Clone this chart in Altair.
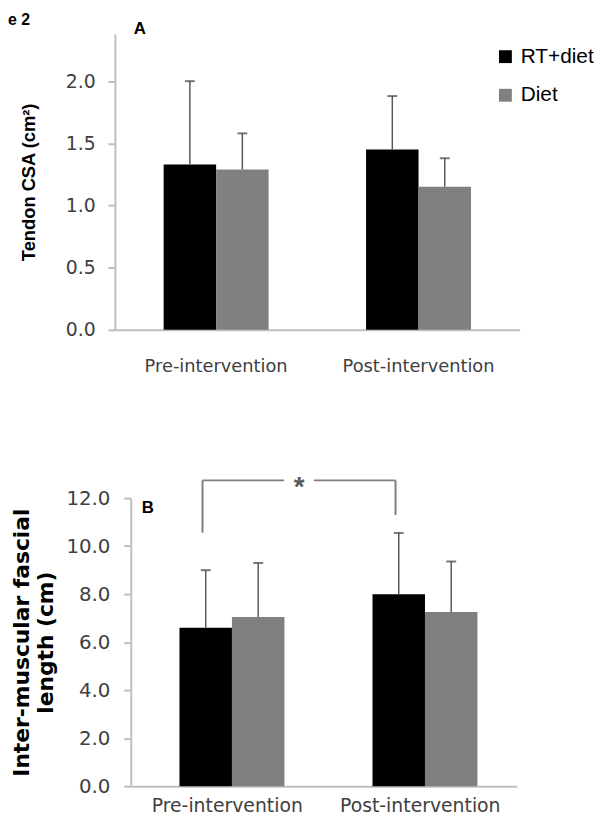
import altair as alt
import pandas as pd

# ---------------- data ----------------
times = ["Pre-intervention", "Post-intervention"]
groups = ["RT+diet", "Diet"]
colors = ["#000000", "#808080"]

row_time = ["Pre-intervention", "Pre-intervention", "Post-intervention", "Post-intervention"]
row_group = ["RT+diet", "Diet", "RT+diet", "Diet"]

# Panel A: tendon CSA (cm²)
csa_mean = [1.33, 1.29, 1.45, 1.15]
csa_sd = [0.67, 0.29, 0.43, 0.23]
csa_ticks = [0.0, 0.5, 1.0, 1.5, 2.0]

# Panel B: inter-muscular fascial length (cm)
fl_mean = [6.6, 7.05, 8.0, 7.26]
fl_sd = [2.4, 2.25, 2.55, 2.1]
fl_ticks = [0.0, 2.0, 4.0, 6.0, 8.0, 10.0, 12.0]

# significance bracket (panel B): RT+diet pre vs post
sig_group = "RT+diet"
sig_y = 12.74
sig_leg_pre = 10.56
sig_leg_post = 11.3
sig_text = "*"

df_a = pd.DataFrame({"Time": row_time, "Group": row_group, "mean": csa_mean,
                     "upper": [m + s for m, s in zip(csa_mean, csa_sd)]})
df_b = pd.DataFrame({"Time": row_time, "Group": row_group, "mean": fl_mean,
                     "upper": [m + s for m, s in zip(fl_mean, fl_sd)]})

AXIS_GREY = "#bfbfbf"
LABEL_GREY = "#404040"


def bar_layers(df, ymax, ticks, y_axis_kwargs, x_axis_kwargs, po, legend, x_range=None):
    xs = dict(domain=times, paddingInner=0, paddingOuter=0)
    if x_range is not None:
        xs["range"] = x_range
    x = alt.X("Time:N", sort=times, scale=alt.Scale(**xs),
              axis=alt.Axis(title=None, labelAngle=0, ticks=False, tickSize=0,
                            domainColor=AXIS_GREY, domainWidth=2,
                            labelColor=LABEL_GREY, labelFont="DejaVu Sans", **x_axis_kwargs))
    xo = alt.XOffset("Group:N", sort=groups,
                     scale=alt.Scale(domain=groups, paddingInner=0, paddingOuter=po))
    y_scale = alt.Scale(domain=[0, ymax], nice=False, zero=True)
    y_axis = alt.Axis(values=ticks, format=".1f", grid=False,
                      domainColor=AXIS_GREY, domainWidth=2,
                      tickColor=AXIS_GREY, tickWidth=2, tickSize=7,
                      labelColor=LABEL_GREY, labelFont="DejaVu Sans",
                      titleColor="black", **y_axis_kwargs)
    base = alt.Chart(df)
    bars = base.mark_bar().encode(
        x=x, xOffset=xo,
        y=alt.Y("mean:Q", scale=y_scale, axis=y_axis),
        color=alt.Color("Group:N", sort=groups,
                        scale=alt.Scale(domain=groups, range=colors), legend=legend),
    )
    err = base.mark_rule(color="#595959", strokeWidth=1.5).encode(
        x=x, xOffset=xo,
        y=alt.Y("mean:Q", scale=y_scale, axis=y_axis), y2="upper:Q",
    )
    cap = base.mark_tick(color="#404040", size=10, thickness=2).encode(
        x=x, xOffset=xo,
        y=alt.Y("upper:Q", scale=y_scale, axis=y_axis),
    )
    return [bars, err, cap], y_scale, y_axis


def panel_letter(letter, px, py):
    return alt.Chart(pd.DataFrame({"t": [letter]})).mark_text(
        align="left", baseline="alphabetic", font="Liberation Sans", fontSize=17,
        fontWeight="bold", color="black").encode(
        text="t:N", x=alt.value(px), y=alt.value(py))


# ---------------- panel A ----------------
legend_a = alt.Legend(title=None, orient="none", legendX=384, legendY=12.5,
                      symbolType="square", symbolSize=169, symbolStrokeWidth=0,
                      labelFont="Liberation Sans", labelFontSize=21, labelColor="black",
                      rowPadding=17, labelOffset=5, padding=0)
layers_a, ys_a, ya_a = bar_layers(
    df_a, 2.38, csa_ticks,
    dict(title="Tendon CSA (cm²)", titleFont="Liberation Sans", titleFontSize=18.5,
         titleFontWeight="bold", titlePadding=27, labelFontSize=19, labelPadding=13),
    dict(labelFontSize=18, labelPadding=28),
    0.929, legend_a)

fig_label = alt.Chart(pd.DataFrame({"t": ["e 2"]})).mark_text(
    align="left", baseline="top", font="Liberation Sans", fontSize=16,
    fontWeight="bold", color="black").encode(
    text="t:N", x=alt.value(-108), y=alt.value(-22))

top = alt.layer(*layers_a, fig_label, panel_letter("A", 19, 0)).properties(
    width=409, height=299,
)

# ---------------- panel B ----------------
po_b = 0.95
b_shift = 16           # y axis of panel B sits 16px right of panel A's
b_width = 406
layers_b, ys_b, ya_b = bar_layers(
    df_b, 12, fl_ticks,
    dict(title=["Inter-muscular fascial", "length (cm)"], titleFont="DejaVu Sans",
         titleFontSize=22, titleFontWeight="bold", titleLineHeight=25,
         titlePadding=8, labelFontSize=20, labelPadding=14, offset=-b_shift),
    dict(labelFontSize=19, labelPadding=11),
    po_b, None, x_range=[b_shift, b_width])

bar_frac = 1.0 / (2 + 2 * po_b)


def bar_center(t, g):
    return times.index(t) + 0.5 + (groups.index(g) - 0.5) * bar_frac


xa = bar_center("Pre-intervention", sig_group)
xb = bar_center("Post-intervention", sig_group)
br_df = pd.DataFrame({
    "x": [xa, xb, xa], "x2": [xa, xb, xb],
    "y": [sig_leg_pre, sig_leg_post, sig_y], "y2": [sig_y, sig_y, sig_y],
})
star_df = pd.DataFrame({"x": [(xa + xb) / 2], "y": [sig_y], "t": [sig_text]})

xq = alt.X("x:Q", scale=alt.Scale(domain=[0, 2], range=[b_shift, b_width],
                                  nice=False, zero=False), axis=None)
bracket = alt.Chart(br_df).mark_rule(color="#7f7f7f", strokeWidth=2).encode(
    x=xq, x2="x2:Q", y=alt.Y("y:Q", scale=ys_b, axis=ya_b), y2="y2:Q")
cover = alt.Chart(star_df).mark_square(size=900, color="white", filled=True,
                                       opacity=1, strokeWidth=0).encode(
    x=xq, y=alt.Y("y:Q", scale=ys_b, axis=ya_b))
star = alt.Chart(star_df).mark_text(font="Liberation Sans", fontSize=28,
                                    fontWeight="bold", color="#595959",
                                    baseline="alphabetic", dy=16).encode(
    x=xq, y=alt.Y("y:Q", scale=ys_b, axis=ya_b), text="t:N")

bottom = alt.layer(
    alt.layer(*layers_b),
    alt.layer(bracket, cover, star),
    panel_letter("B", 27, 15),
).resolve_scale(x="independent").properties(
    width=b_width, height=291,
)

chart = alt.VConcatChart(
    vconcat=[top, bottom], spacing=91, padding=0,
).resolve_scale(x="independent", y="independent", color="independent").configure_view(
    stroke=None
)

chart.save("out.html", embed_options={"renderer": "svg", "actions": False})
